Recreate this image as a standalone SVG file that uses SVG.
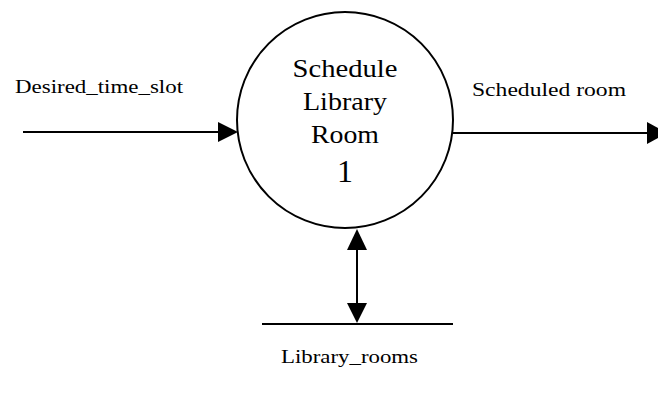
<svg xmlns="http://www.w3.org/2000/svg" width="658" height="418" viewBox="0 0 658 418">
  <style>
    .line { stroke: #000; stroke-width: 2; fill: none; }
    .head { fill: #000; }
    .label { font-family: "Liberation Serif", "DejaVu Serif", serif; font-size: 19px; fill: #000; }
    .proc { font-family: "Liberation Serif", "DejaVu Serif", serif; font-size: 26px; fill: #000; text-anchor: middle; }
  </style>
  <rect width="658" height="418" fill="#fff"/>

  <!-- process bubble -->
  <g id="process-1">
    <circle class="line" cx="345" cy="120" r="108"/>
    <text class="proc" x="345" y="77" textLength="105" lengthAdjust="spacingAndGlyphs">Schedule</text>
    <text class="proc" x="345" y="110" textLength="84" lengthAdjust="spacingAndGlyphs">Library</text>
    <text class="proc" x="345" y="143" textLength="68" lengthAdjust="spacingAndGlyphs">Room</text>
    <text class="proc" x="345" y="182" style="font-size:32px">1</text>
  </g>

  <!-- data store -->
  <g id="store-library-rooms">
    <line class="line" x1="262" y1="324" x2="453" y2="324"/>
    <text class="label" x="281" y="363" textLength="137" lengthAdjust="spacingAndGlyphs">Library_rooms</text>
  </g>

  <!-- data flows -->
  <g id="connectors">
    <line class="line" x1="23" y1="132" x2="220" y2="132"/>
    <polygon class="head" points="218,122 238,132 218,142"/>
    <text class="label" x="15" y="93" textLength="168" lengthAdjust="spacingAndGlyphs">Desired_time_slot</text>

    <line class="line" x1="453" y1="133" x2="648" y2="133"/>
    <polygon class="head" points="647,122 667,133 647,144"/>
    <text class="label" x="472" y="96" textLength="154" lengthAdjust="spacingAndGlyphs">Scheduled room</text>

    <line class="line" x1="357" y1="245" x2="357" y2="306"/>
    <polygon class="head" points="357,229 367,250 347,250"/>
    <polygon class="head" points="347,303 367,303 357,323"/>
  </g>
</svg>
